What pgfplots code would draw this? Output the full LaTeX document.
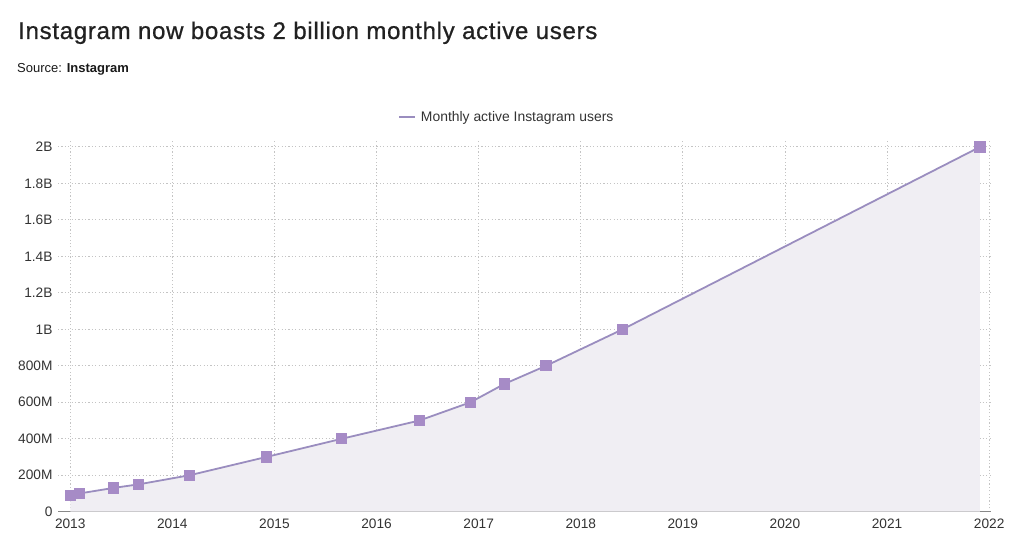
\documentclass[border=0pt]{standalone}
\usepackage{fontspec}
\setmainfont{Liberation Sans}
\newfontfamily\titlefont[LetterSpace=3, FakeBold=0.8]{Liberation Sans}
\usepackage{pgfplots}
\pgfplotsset{compat=1.18}
\definecolor{linec}{HTML}{9A8DBF}
\definecolor{markc}{HTML}{A68BC6}
\definecolor{fillc}{HTML}{F0EEF3}
\definecolor{gridc}{HTML}{C4C4C4}
\definecolor{txt}{HTML}{333333}
\definecolor{axc}{HTML}{888888}
\pgfplotstableread{
x y
2013.00 90
2013.09 100
2013.42 130
2013.67 150
2014.17 200
2014.92 300
2015.66 400
2016.42 500
2016.92 600
2017.25 700
2017.66 800
2018.41 1000
2021.91 2000
}\users
\begin{document}
\begin{tikzpicture}
\useasboundingbox (0bp,0bp) rectangle (1024bp,557bp);
\node[anchor=base west, font=\titlefont\fontsize{24bp}{28bp}\selectfont, text=black!87, inner sep=0] at (18bp,518bp) {Instagram now boasts 2 billion monthly active users};
\node[anchor=base west, font=\fontsize{13bp}{16bp}\selectfont, text=black!90, inner sep=0] at (17bp,484bp) {Source: \textbf{Instagram}};
\begin{axis}[
  at={(58bp,45.3bp)}, anchor=south west,
  scale only axis, width=933bp, height=371.7bp,
  xmin=2012.88, xmax=2022.018, ymin=0, ymax=2038,
  axis x line*=bottom, axis y line*=left,
  x axis line style={-, draw=axc, line width=1.3pt},
  y axis line style={draw=none},
  major tick length=0pt,
  grid=major,
  grid style={dash pattern=on 1.2pt off 2.2pt, draw=gridc, line width=0.9pt},
  xtick={2013,2014,2015,2016,2017,2018,2019,2020,2021,2022},
  xticklabels={2013,2014,2015,2016,2017,2018,2019,2020,2021,2022},
  ytick={0,200,400,600,800,1000,1200,1400,1600,1800,2000},
  yticklabels={0,200M,400M,600M,800M,1B,1.2B,1.4B,1.6B,1.8B,2B},
  tick label style={font=\fontsize{13.7bp}{16bp}\selectfont, text=txt},
  xticklabel style={yshift=-4bp},
  yticklabel style={xshift=-2bp},
  legend style={at={(axis description cs:0.481,1.062)}, anchor=center, draw=none, fill=none,
    font=\fontsize{13.9bp}{16bp}\selectfont, text=txt},
  legend image code/.code={\draw[linec, line width=1.8pt] (0bp,0bp) -- (16bp,0bp);},
]
\addplot[draw=none, fill=fillc, forget plot] table[x=x,y=y]{\users} \closedcycle;
\addplot[linec, line width=1.8pt, mark=square*, mark size=4.7bp, mark options={fill=markc, draw=markc, solid}] table[x=x,y=y]{\users};
\addlegendentry{\hspace{3bp}Monthly active Instagram users}
\end{axis}
\end{tikzpicture}
\end{document}
